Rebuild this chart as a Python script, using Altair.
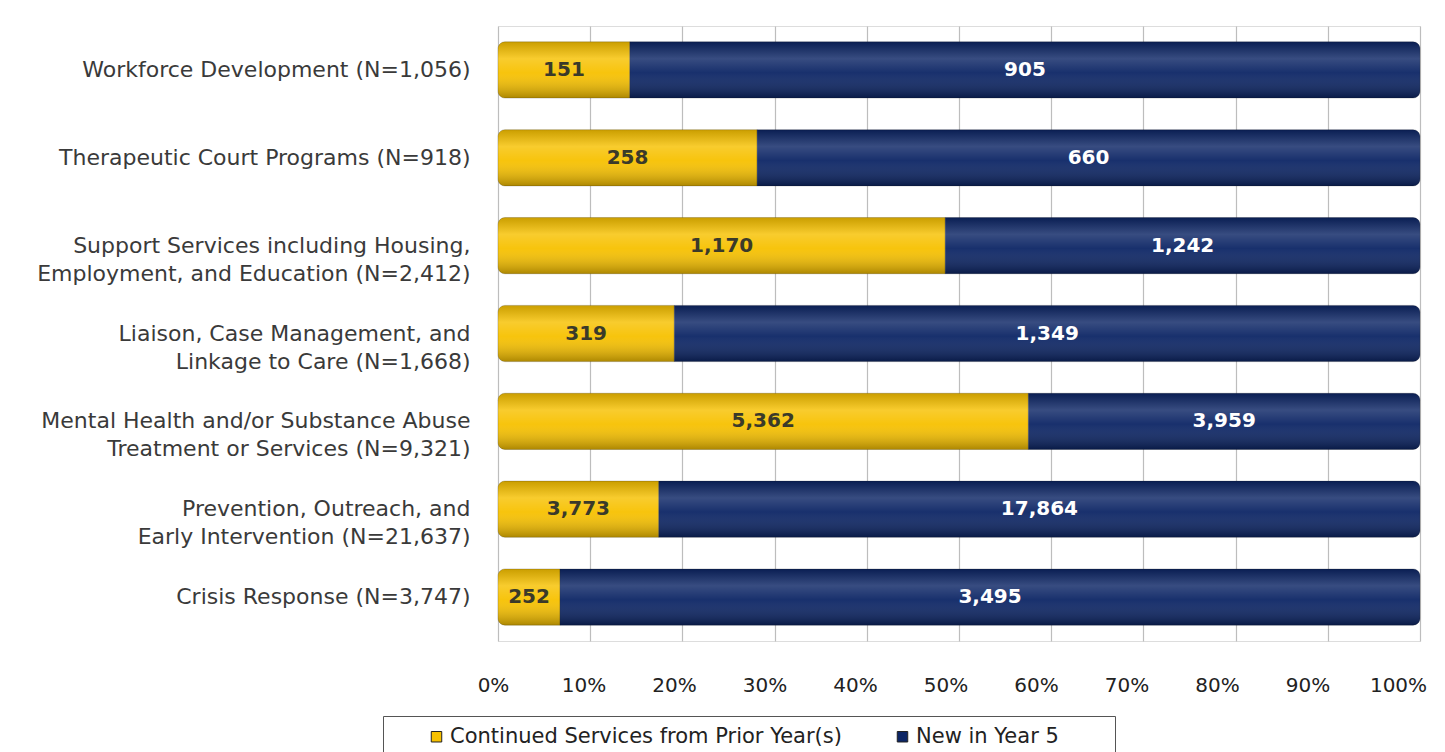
import altair as alt
import pandas as pd

categories = [
    "Workforce Development (N=1,056)",
    "Therapeutic Court Programs (N=918)",
    "Support Services including Housing,|Employment, and Education (N=2,412)",
    "Liaison, Case Management, and|Linkage to Care (N=1,668)",
    "Mental Health and/or Substance Abuse|Treatment or Services (N=9,321)",
    "Prevention, Outreach, and|Early Intervention (N=21,637)",
    "Crisis Response (N=3,747)",
]
continued = [151, 258, 1170, 319, 5362, 3773, 252]
new_y5 = [905, 660, 1242, 1349, 3959, 17864, 3495]
series = ["Continued Services from Prior Year(s)", "New in Year 5"]
colors = ["#F7C100", "#0C2565"]
tick_values = [0, 0.1, 0.2, 0.3, 0.4, 0.5, 0.6, 0.7, 0.8, 0.9, 1.0]

rows = []
for c, a, b in zip(categories, continued, new_y5):
    rows.append({"category": c, "series": series[0], "value": a, "order": 0})
    rows.append({"category": c, "series": series[1], "value": b, "order": 1})
df = pd.DataFrame(rows)

FONT = "DejaVu Sans"

base = alt.Chart(df).transform_stack(
    stack="value", groupby=["category"], as_=["v0", "v1"],
    offset="normalize", sort=[alt.SortField("order", order="ascending")]
).transform_calculate(mid="(datum.v0 + datum.v1) / 2")

y_enc = alt.Y(
    "category:N", sort=categories, title=None,
    scale=alt.Scale(paddingInner=0.36, paddingOuter=0.18),
    axis=alt.Axis(
        labelExpr="split(datum.label, '|')", labelFont=FONT, labelFontSize=22,
        labelColor="#3a3a3a", labelLimit=600, ticks=False, domain=False,
        labelPadding=28, minExtent=485, maxExtent=485, labelLineHeight=28,
        grid=False,
    ),
)

x_axis = alt.Axis(
    format=".0%", values=tick_values, labelFont=FONT, labelFontSize=20,
    labelColor="#222222", ticks=False, domain=False, grid=True,
    gridColor="#BDBDBD", gridWidth=1.2, labelPadding=34, labelFlush=False,
    labelOffset={"expr": "-5 - 17 * datum.value"},
)

corner = dict(
    cornerRadiusTopLeft={"expr": "datum.order == 0 ? 7 : 0"},
    cornerRadiusBottomLeft={"expr": "datum.order == 0 ? 7 : 0"},
    cornerRadiusTopRight={"expr": "datum.order == 1 ? 7 : 0"},
    cornerRadiusBottomRight={"expr": "datum.order == 1 ? 7 : 0"},
)

bars = base.mark_bar(
    stroke="#1a1a1a", strokeWidth=0.6, strokeOpacity=0.35, **corner
).encode(
    x=alt.X("v0:Q", title=None, scale=alt.Scale(domain=[0, 1]), axis=x_axis),
    x2="v1:Q",
    y=y_enc,
    color=alt.Color(
        "series:N", scale=alt.Scale(domain=series, range=colors),
        legend=alt.Legend(
            title=None, orient="none", legendX=-115, legendY=690, direction="horizontal",
            symbolType="square", symbolSize=110, symbolStrokeColor="#222222",
            symbolStrokeWidth=1, labelFont=FONT, labelFontSize=21, labelColor="#222222",
            columnPadding=17, padding=10, strokeColor="#555555", fillColor="white",
            labelLimit=700, symbolOffset=33, labelOffset=3,
            labelExpr="datum.label == 'New in Year 5' ? datum.label + '\u2800\u2800\u2800' : datum.label",
        ),
    ),
    order=alt.Order("order:Q"),
)

shade = base.mark_bar(
    fill={
        "gradient": "linear", "x1": 0, "y1": 0, "x2": 0, "y2": 1,
        "stops": [
            {"offset": 0, "color": "rgba(0,0,0,0.18)"},
            {"offset": 0.3, "color": "rgba(255,255,255,0.18)"},
            {"offset": 0.55, "color": "rgba(255,255,255,0.05)"},
            {"offset": 1, "color": "rgba(0,0,0,0.3)"},
        ],
    },
    **corner,
).encode(
    x=alt.X("v0:Q"),
    x2="v1:Q",
    y=alt.Y("category:N", sort=categories),
)

text = base.mark_text(font=FONT, fontSize=20, fontWeight="bold").encode(
    x=alt.X("mid:Q"),
    y=alt.Y("category:N", sort=categories),
    text=alt.Text("value:Q", format=","),
    color=alt.Color(
        "series:N", scale=alt.Scale(domain=series, range=["#3a3a2a", "#FFFFFF"]),
        legend=None,
    ),
)

chart = alt.layer(bars, shade, text).resolve_scale(color="independent").properties(
    width=922, height=615,
    padding={"top": 18, "left": 5, "right": 5, "bottom": 5},
).configure_view(stroke="#BDBDBD", strokeWidth=1.2).configure(background="white")

chart.save("out.html", embed_options={"renderer": "svg", "actions": False})
